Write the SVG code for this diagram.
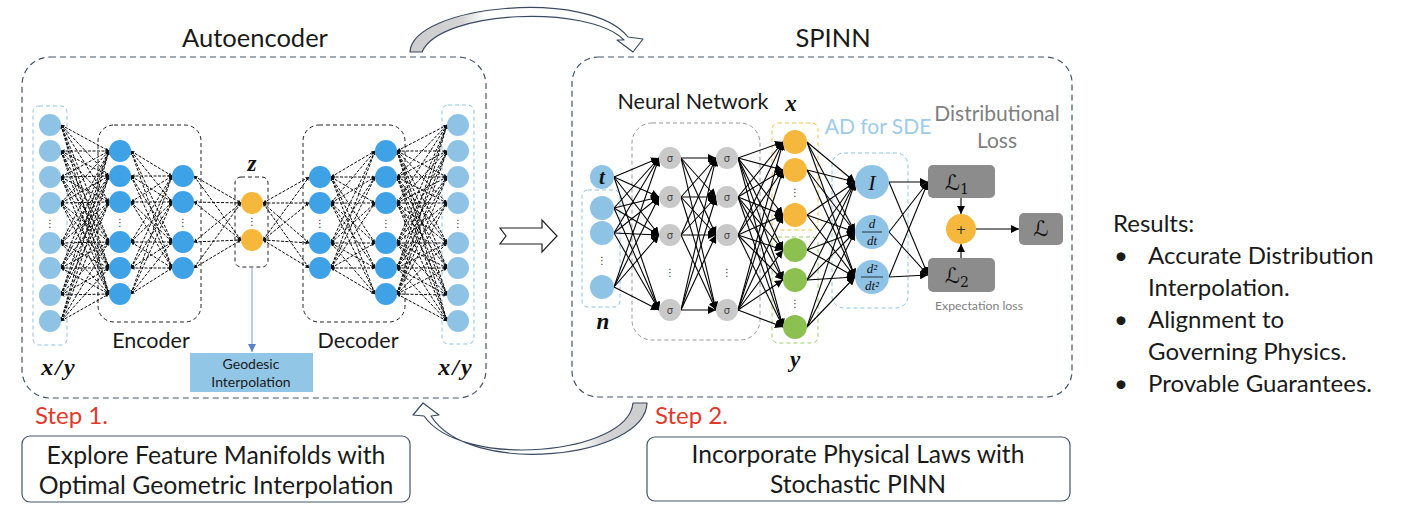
<svg xmlns="http://www.w3.org/2000/svg" width="1412" height="518" viewBox="0 0 1412 518">
<style>
.t{font-family:Lato,"Open Sans",sans-serif;fill:#1a1a1a}
.m{font-family:"Liberation Serif","DejaVu Serif",serif;font-style:italic;font-weight:bold;fill:#111}
.mi{font-family:"Liberation Serif","DejaVu Serif",serif;font-style:italic;fill:#111}
.sc{font-family:"DejaVu Serif","DejaVu Sans",serif;fill:#111}
.frame{fill:none;stroke:#44546a;stroke-width:1.2;stroke-dasharray:6 4}
.grp{fill:none;stroke:#222;stroke-width:1;stroke-dasharray:4 3}
.lb{fill:none;stroke:#8cc3e6;stroke-width:1;stroke-dasharray:4 3}
.ae{fill:#3fa1e6}
.in{fill:#8fc3e6}
.or{fill:#f5b83d}
.gr{fill:#8cc152}
.sg{fill:#c9c9c9}
.lbox{fill:#8c8c8c}
.dots{font-family:"DejaVu Sans",sans-serif;font-size:10px;fill:#333;text-anchor:middle}
.sig{font-family:"DejaVu Sans",sans-serif;font-size:10px;fill:#444;text-anchor:middle}
.dash line{stroke:#0a0a0a;stroke-width:1;stroke-dasharray:3 1.5;marker-start:url(#tip);marker-end:url(#tip)}
.solid line{stroke:#000;stroke-width:1.1;marker-end:url(#ah)}
</style>
<defs>
<marker id="tip" viewBox="0 0 10 10" refX="10" refY="5" markerWidth="3.5" markerHeight="3.5" markerUnits="userSpaceOnUse" orient="auto-start-reverse"><path d="M0,0 L10,5 L0,10 z" fill="#111"/></marker>
<marker id="ah" viewBox="0 0 10 10" refX="10" refY="5" markerWidth="8" markerHeight="8" markerUnits="userSpaceOnUse" orient="auto"><path d="M0,0 L10,5 L0,10 z" fill="#000"/></marker>
<marker id="bl" viewBox="0 0 10 10" refX="10" refY="5" markerWidth="8" markerHeight="8" markerUnits="userSpaceOnUse" orient="auto"><path d="M0,0 L10,5 L0,10 z" fill="#5b7fc7"/></marker>
<linearGradient id="ga" gradientUnits="userSpaceOnUse" x1="410" y1="0" x2="645" y2="0"><stop offset="0" stop-color="#cdcdcd"/><stop offset="0.22" stop-color="#d4d4d4"/><stop offset="0.32" stop-color="#fff"/></linearGradient>
<linearGradient id="gb" gradientUnits="userSpaceOnUse" x1="647" y1="0" x2="413" y2="0"><stop offset="0" stop-color="#cdcdcd"/><stop offset="0.18" stop-color="#d4d4d4"/><stop offset="0.3" stop-color="#fff"/></linearGradient>
</defs>
<rect width="1412" height="518" fill="#fff"/>

<!-- frames and titles -->
<g id="autoencoder-frame">
<rect class="frame" x="22" y="57" width="464" height="341" rx="28"/>
<text class="t" x="255" y="47" font-size="25.5" text-anchor="middle">Autoencoder</text>
</g>
<g id="spinn-frame">
<rect class="frame" x="572" y="57" width="500" height="340" rx="26"/>
<text class="t" x="833" y="47" font-size="25.5" text-anchor="middle">SPINN</text>
</g>

<!-- big arrows -->
<g id="arrow-top">
<path d="M410,52 C412,5 590,-12 628,37 L643,39 L633,52 L617,40 L624,40 C588,4 440,10 422,52 Z" fill="url(#ga)" stroke="#3b4a63" stroke-width="1.2" stroke-linejoin="round"/>
</g>
<g id="arrow-bottom">
<path d="M647,403 C645,458 470,478 431,416 L439,415 L423,403 L413,415 L424,416 C462,470 628,455 633,403 Z" fill="url(#gb)" stroke="#3b4a63" stroke-width="1.2" stroke-linejoin="round"/>
</g>
<g id="arrow-mid">
<path d="M500,228 L542,228 L542,220 L557,236 L542,252 L542,244 L500,244 L506,236 Z" fill="#fff" stroke="#222" stroke-width="1.2"/>
</g>

<!-- group boxes -->
<g id="boxes">
<rect class="lb" x="33" y="106" width="34" height="239" rx="6"/>
<rect class="lb" x="442" y="105" width="32" height="239" rx="6"/>
<rect class="grp" x="98" y="125" width="103" height="197" rx="16"/>
<rect class="grp" x="303" y="125" width="102" height="197" rx="16"/>
<rect class="grp" x="235" y="177" width="33" height="90" rx="6"/>
<rect x="582" y="190" width="38" height="117" rx="6" fill="none" stroke="#8cc3e6" stroke-width="1" stroke-dasharray="4 3"/>
<rect x="632" y="123" width="128" height="217" rx="20" fill="none" stroke="#999" stroke-width="1" stroke-dasharray="4 3"/>
<rect x="772" y="123" width="46" height="107" rx="6" fill="none" stroke="#f2c04e" stroke-width="1" stroke-dasharray="4 3"/>
<rect x="772" y="237" width="46" height="106" rx="6" fill="none" stroke="#9ccf6a" stroke-width="1" stroke-dasharray="4 3"/>
<rect x="832" y="153" width="76" height="155" rx="12" fill="none" stroke="#8cc3e6" stroke-width="1" stroke-dasharray="4 3"/>
</g>

<!-- connectors -->
<g id="connectors">
<g class="dash">
<!-- input -> E1 -->
<line x1="61" y1="125" x2="109" y2="151"/><line x1="61" y1="125" x2="109" y2="176"/><line x1="61" y1="125" x2="109" y2="202"/><line x1="61" y1="125" x2="109" y2="242"/><line x1="61" y1="125" x2="109" y2="268"/><line x1="61" y1="125" x2="109" y2="294"/>
<line x1="61" y1="151" x2="109" y2="151"/><line x1="61" y1="151" x2="109" y2="176"/><line x1="61" y1="151" x2="109" y2="202"/><line x1="61" y1="151" x2="109" y2="242"/><line x1="61" y1="151" x2="109" y2="268"/><line x1="61" y1="151" x2="109" y2="294"/>
<line x1="61" y1="177" x2="109" y2="151"/><line x1="61" y1="177" x2="109" y2="176"/><line x1="61" y1="177" x2="109" y2="202"/><line x1="61" y1="177" x2="109" y2="242"/><line x1="61" y1="177" x2="109" y2="268"/><line x1="61" y1="177" x2="109" y2="294"/>
<line x1="61" y1="203" x2="109" y2="151"/><line x1="61" y1="203" x2="109" y2="176"/><line x1="61" y1="203" x2="109" y2="202"/><line x1="61" y1="203" x2="109" y2="242"/><line x1="61" y1="203" x2="109" y2="268"/><line x1="61" y1="203" x2="109" y2="294"/>
<line x1="61" y1="243" x2="109" y2="151"/><line x1="61" y1="243" x2="109" y2="176"/><line x1="61" y1="243" x2="109" y2="202"/><line x1="61" y1="243" x2="109" y2="242"/><line x1="61" y1="243" x2="109" y2="268"/><line x1="61" y1="243" x2="109" y2="294"/>
<line x1="61" y1="268" x2="109" y2="151"/><line x1="61" y1="268" x2="109" y2="176"/><line x1="61" y1="268" x2="109" y2="202"/><line x1="61" y1="268" x2="109" y2="242"/><line x1="61" y1="268" x2="109" y2="268"/><line x1="61" y1="268" x2="109" y2="294"/>
<line x1="61" y1="295" x2="109" y2="151"/><line x1="61" y1="295" x2="109" y2="176"/><line x1="61" y1="295" x2="109" y2="202"/><line x1="61" y1="295" x2="109" y2="242"/><line x1="61" y1="295" x2="109" y2="268"/><line x1="61" y1="295" x2="109" y2="294"/>
<line x1="61" y1="321" x2="109" y2="151"/><line x1="61" y1="321" x2="109" y2="176"/><line x1="61" y1="321" x2="109" y2="202"/><line x1="61" y1="321" x2="109" y2="242"/><line x1="61" y1="321" x2="109" y2="268"/><line x1="61" y1="321" x2="109" y2="294"/>
<!-- E1 -> E2 -->
<line x1="131" y1="151" x2="172" y2="176"/><line x1="131" y1="151" x2="172" y2="202"/><line x1="131" y1="151" x2="172" y2="242"/><line x1="131" y1="151" x2="172" y2="268"/>
<line x1="131" y1="176" x2="172" y2="176"/><line x1="131" y1="176" x2="172" y2="202"/><line x1="131" y1="176" x2="172" y2="242"/><line x1="131" y1="176" x2="172" y2="268"/>
<line x1="131" y1="202" x2="172" y2="176"/><line x1="131" y1="202" x2="172" y2="202"/><line x1="131" y1="202" x2="172" y2="242"/><line x1="131" y1="202" x2="172" y2="268"/>
<line x1="131" y1="242" x2="172" y2="176"/><line x1="131" y1="242" x2="172" y2="202"/><line x1="131" y1="242" x2="172" y2="242"/><line x1="131" y1="242" x2="172" y2="268"/>
<line x1="131" y1="268" x2="172" y2="176"/><line x1="131" y1="268" x2="172" y2="202"/><line x1="131" y1="268" x2="172" y2="242"/><line x1="131" y1="268" x2="172" y2="268"/>
<line x1="131" y1="294" x2="172" y2="176"/><line x1="131" y1="294" x2="172" y2="202"/><line x1="131" y1="294" x2="172" y2="242"/><line x1="131" y1="294" x2="172" y2="268"/>
<!-- E2 -> Z -->
<line x1="194" y1="176" x2="241" y2="203"/><line x1="194" y1="176" x2="241" y2="240"/>
<line x1="194" y1="202" x2="241" y2="203"/><line x1="194" y1="202" x2="241" y2="240"/>
<line x1="194" y1="242" x2="241" y2="203"/><line x1="194" y1="242" x2="241" y2="240"/>
<line x1="194" y1="268" x2="241" y2="203"/><line x1="194" y1="268" x2="241" y2="240"/>
<!-- Z -> D1 -->
<line x1="263" y1="203" x2="309" y2="177"/><line x1="263" y1="203" x2="309" y2="203"/><line x1="263" y1="203" x2="309" y2="243"/><line x1="263" y1="203" x2="309" y2="268"/>
<line x1="263" y1="240" x2="309" y2="177"/><line x1="263" y1="240" x2="309" y2="203"/><line x1="263" y1="240" x2="309" y2="243"/><line x1="263" y1="240" x2="309" y2="268"/>
<!-- D1 -> D2 -->
<line x1="331" y1="177" x2="375" y2="151"/><line x1="331" y1="177" x2="375" y2="177"/><line x1="331" y1="177" x2="375" y2="203"/><line x1="331" y1="177" x2="375" y2="243"/><line x1="331" y1="177" x2="375" y2="268"/><line x1="331" y1="177" x2="375" y2="294"/>
<line x1="331" y1="203" x2="375" y2="151"/><line x1="331" y1="203" x2="375" y2="177"/><line x1="331" y1="203" x2="375" y2="203"/><line x1="331" y1="203" x2="375" y2="243"/><line x1="331" y1="203" x2="375" y2="268"/><line x1="331" y1="203" x2="375" y2="294"/>
<line x1="331" y1="243" x2="375" y2="151"/><line x1="331" y1="243" x2="375" y2="177"/><line x1="331" y1="243" x2="375" y2="203"/><line x1="331" y1="243" x2="375" y2="243"/><line x1="331" y1="243" x2="375" y2="268"/><line x1="331" y1="243" x2="375" y2="294"/>
<line x1="331" y1="268" x2="375" y2="151"/><line x1="331" y1="268" x2="375" y2="177"/><line x1="331" y1="268" x2="375" y2="203"/><line x1="331" y1="268" x2="375" y2="243"/><line x1="331" y1="268" x2="375" y2="268"/><line x1="331" y1="268" x2="375" y2="294"/>
<!-- D2 -> output -->
<line x1="397" y1="151" x2="447" y2="125"/><line x1="397" y1="151" x2="447" y2="151"/><line x1="397" y1="151" x2="447" y2="177"/><line x1="397" y1="151" x2="447" y2="203"/><line x1="397" y1="151" x2="447" y2="243"/><line x1="397" y1="151" x2="447" y2="268"/><line x1="397" y1="151" x2="447" y2="295"/><line x1="397" y1="151" x2="447" y2="321"/>
<line x1="397" y1="177" x2="447" y2="125"/><line x1="397" y1="177" x2="447" y2="151"/><line x1="397" y1="177" x2="447" y2="177"/><line x1="397" y1="177" x2="447" y2="203"/><line x1="397" y1="177" x2="447" y2="243"/><line x1="397" y1="177" x2="447" y2="268"/><line x1="397" y1="177" x2="447" y2="295"/><line x1="397" y1="177" x2="447" y2="321"/>
<line x1="397" y1="203" x2="447" y2="125"/><line x1="397" y1="203" x2="447" y2="151"/><line x1="397" y1="203" x2="447" y2="177"/><line x1="397" y1="203" x2="447" y2="203"/><line x1="397" y1="203" x2="447" y2="243"/><line x1="397" y1="203" x2="447" y2="268"/><line x1="397" y1="203" x2="447" y2="295"/><line x1="397" y1="203" x2="447" y2="321"/>
<line x1="397" y1="243" x2="447" y2="125"/><line x1="397" y1="243" x2="447" y2="151"/><line x1="397" y1="243" x2="447" y2="177"/><line x1="397" y1="243" x2="447" y2="203"/><line x1="397" y1="243" x2="447" y2="243"/><line x1="397" y1="243" x2="447" y2="268"/><line x1="397" y1="243" x2="447" y2="295"/><line x1="397" y1="243" x2="447" y2="321"/>
<line x1="397" y1="268" x2="447" y2="125"/><line x1="397" y1="268" x2="447" y2="151"/><line x1="397" y1="268" x2="447" y2="177"/><line x1="397" y1="268" x2="447" y2="203"/><line x1="397" y1="268" x2="447" y2="243"/><line x1="397" y1="268" x2="447" y2="268"/><line x1="397" y1="268" x2="447" y2="295"/><line x1="397" y1="268" x2="447" y2="321"/>
<line x1="397" y1="294" x2="447" y2="125"/><line x1="397" y1="294" x2="447" y2="151"/><line x1="397" y1="294" x2="447" y2="177"/><line x1="397" y1="294" x2="447" y2="203"/><line x1="397" y1="294" x2="447" y2="243"/><line x1="397" y1="294" x2="447" y2="268"/><line x1="397" y1="294" x2="447" y2="295"/><line x1="397" y1="294" x2="447" y2="321"/>
</g>
<line x1="252" y1="267" x2="252" y2="352" stroke="#8ea9db" stroke-width="1.2" marker-end="url(#bl)"/>
<g class="solid">
<!-- inputs -> H1 -->
<line x1="614" y1="177" x2="659" y2="158"/><line x1="614" y1="177" x2="659" y2="197"/><line x1="614" y1="177" x2="659" y2="235"/><line x1="614" y1="177" x2="659" y2="310"/>
<line x1="614" y1="208" x2="659" y2="158"/><line x1="614" y1="208" x2="659" y2="197"/><line x1="614" y1="208" x2="659" y2="235"/><line x1="614" y1="208" x2="659" y2="310"/>
<line x1="614" y1="233" x2="659" y2="158"/><line x1="614" y1="233" x2="659" y2="197"/><line x1="614" y1="233" x2="659" y2="235"/><line x1="614" y1="233" x2="659" y2="310"/>
<line x1="614" y1="287" x2="659" y2="158"/><line x1="614" y1="287" x2="659" y2="197"/><line x1="614" y1="287" x2="659" y2="235"/><line x1="614" y1="287" x2="659" y2="310"/>
<!-- H1 -> H2 -->
<line x1="681" y1="158" x2="716" y2="158"/><line x1="681" y1="158" x2="716" y2="197"/><line x1="681" y1="158" x2="716" y2="235"/><line x1="681" y1="158" x2="716" y2="310"/>
<line x1="681" y1="197" x2="716" y2="158"/><line x1="681" y1="197" x2="716" y2="197"/><line x1="681" y1="197" x2="716" y2="235"/><line x1="681" y1="197" x2="716" y2="310"/>
<line x1="681" y1="235" x2="716" y2="158"/><line x1="681" y1="235" x2="716" y2="197"/><line x1="681" y1="235" x2="716" y2="235"/><line x1="681" y1="235" x2="716" y2="310"/>
<line x1="681" y1="310" x2="716" y2="158"/><line x1="681" y1="310" x2="716" y2="197"/><line x1="681" y1="310" x2="716" y2="235"/><line x1="681" y1="310" x2="716" y2="310"/>
<!-- H2 -> outputs -->
<line x1="738" y1="158" x2="783" y2="142"/><line x1="738" y1="158" x2="783" y2="170"/><line x1="738" y1="158" x2="783" y2="215"/><line x1="738" y1="158" x2="783" y2="250"/><line x1="738" y1="158" x2="783" y2="280"/><line x1="738" y1="158" x2="783" y2="327"/>
<line x1="738" y1="197" x2="783" y2="142"/><line x1="738" y1="197" x2="783" y2="170"/><line x1="738" y1="197" x2="783" y2="215"/><line x1="738" y1="197" x2="783" y2="250"/><line x1="738" y1="197" x2="783" y2="280"/><line x1="738" y1="197" x2="783" y2="327"/>
<line x1="738" y1="235" x2="783" y2="142"/><line x1="738" y1="235" x2="783" y2="170"/><line x1="738" y1="235" x2="783" y2="215"/><line x1="738" y1="235" x2="783" y2="250"/><line x1="738" y1="235" x2="783" y2="280"/><line x1="738" y1="235" x2="783" y2="327"/>
<line x1="738" y1="310" x2="783" y2="142"/><line x1="738" y1="310" x2="783" y2="170"/><line x1="738" y1="310" x2="783" y2="215"/><line x1="738" y1="310" x2="783" y2="250"/><line x1="738" y1="310" x2="783" y2="280"/><line x1="738" y1="310" x2="783" y2="327"/>
<!-- outputs -> AD -->
<line x1="807" y1="142" x2="855" y2="182"/><line x1="807" y1="142" x2="855" y2="232"/><line x1="807" y1="142" x2="855" y2="277"/>
<line x1="807" y1="170" x2="855" y2="182"/><line x1="807" y1="170" x2="855" y2="232"/><line x1="807" y1="170" x2="855" y2="277"/>
<line x1="807" y1="215" x2="855" y2="182"/><line x1="807" y1="215" x2="855" y2="232"/><line x1="807" y1="215" x2="855" y2="277"/>
<line x1="807" y1="250" x2="855" y2="182"/><line x1="807" y1="250" x2="855" y2="232"/><line x1="807" y1="250" x2="855" y2="277"/>
<line x1="807" y1="280" x2="855" y2="182"/><line x1="807" y1="280" x2="855" y2="232"/><line x1="807" y1="280" x2="855" y2="277"/>
<line x1="807" y1="327" x2="855" y2="182"/><line x1="807" y1="327" x2="855" y2="232"/><line x1="807" y1="327" x2="855" y2="277"/>
<!-- AD -> losses -->
<line x1="889" y1="182" x2="928" y2="182"/><line x1="889" y1="182" x2="928" y2="275"/>
<line x1="889" y1="232" x2="928" y2="182"/><line x1="889" y1="232" x2="928" y2="275"/>
<line x1="889" y1="277" x2="928" y2="182"/><line x1="889" y1="277" x2="928" y2="275"/>
<line x1="961" y1="198" x2="961" y2="214"/>
<line x1="961" y1="258" x2="961" y2="244"/>
<line x1="976" y1="229" x2="1019" y2="229"/>
</g>
</g>

<!-- autoencoder nodes -->
<g id="ae-input">
<g id="in1"><circle class="in" cx="50" cy="125" r="11"/></g>
<g id="in2"><circle class="in" cx="50" cy="151" r="11"/></g>
<g id="in3"><circle class="in" cx="50" cy="177" r="11"/></g>
<g id="in4"><circle class="in" cx="50" cy="203" r="11"/></g>
<g id="in5"><circle class="in" cx="50" cy="243" r="11"/></g>
<g id="in6"><circle class="in" cx="50" cy="268" r="11"/></g>
<g id="in7"><circle class="in" cx="50" cy="295" r="11"/></g>
<g id="in8"><circle class="in" cx="50" cy="321" r="11"/></g>
<text class="dots" x="50" y="227">⋮</text>
</g>
<g id="ae-enc1">
<g id="e1a"><circle class="ae" cx="120" cy="151" r="11"/></g>
<g id="e1b"><circle class="ae" cx="120" cy="176" r="11"/></g>
<g id="e1c"><circle class="ae" cx="120" cy="202" r="11"/></g>
<g id="e1d"><circle class="ae" cx="120" cy="242" r="11"/></g>
<g id="e1e"><circle class="ae" cx="120" cy="268" r="11"/></g>
<g id="e1f"><circle class="ae" cx="120" cy="294" r="11"/></g>
<text class="dots" x="120" y="226">⋮</text>
</g>
<g id="ae-enc2">
<g id="e2a"><circle class="ae" cx="183" cy="176" r="11"/></g>
<g id="e2b"><circle class="ae" cx="183" cy="202" r="11"/></g>
<g id="e2c"><circle class="ae" cx="183" cy="242" r="11"/></g>
<g id="e2d"><circle class="ae" cx="183" cy="268" r="11"/></g>
<text class="dots" x="183" y="226">⋮</text>
</g>
<g id="ae-z">
<g id="z1"><circle class="or" cx="252" cy="203" r="11"/></g>
<g id="z2"><circle class="or" cx="252" cy="240" r="11"/></g>
<text class="dots" x="252" y="225">⋮</text>
<text class="m" x="252" y="171" font-size="23" text-anchor="middle">z</text>
</g>
<g id="ae-dec1">
<g id="d1a"><circle class="ae" cx="320" cy="177" r="11"/></g>
<g id="d1b"><circle class="ae" cx="320" cy="203" r="11"/></g>
<g id="d1c"><circle class="ae" cx="320" cy="243" r="11"/></g>
<g id="d1d"><circle class="ae" cx="320" cy="268" r="11"/></g>
<text class="dots" x="320" y="227">⋮</text>
</g>
<g id="ae-dec2">
<g id="d2a"><circle class="ae" cx="386" cy="151" r="11"/></g>
<g id="d2b"><circle class="ae" cx="386" cy="177" r="11"/></g>
<g id="d2c"><circle class="ae" cx="386" cy="203" r="11"/></g>
<g id="d2d"><circle class="ae" cx="386" cy="243" r="11"/></g>
<g id="d2e"><circle class="ae" cx="386" cy="268" r="11"/></g>
<g id="d2f"><circle class="ae" cx="386" cy="294" r="11"/></g>
<text class="dots" x="386" y="227">⋮</text>
</g>
<g id="ae-output">
<g id="out1"><circle class="in" cx="458" cy="125" r="11"/></g>
<g id="out2"><circle class="in" cx="458" cy="151" r="11"/></g>
<g id="out3"><circle class="in" cx="458" cy="177" r="11"/></g>
<g id="out4"><circle class="in" cx="458" cy="203" r="11"/></g>
<g id="out5"><circle class="in" cx="458" cy="243" r="11"/></g>
<g id="out6"><circle class="in" cx="458" cy="268" r="11"/></g>
<g id="out7"><circle class="in" cx="458" cy="295" r="11"/></g>
<g id="out8"><circle class="in" cx="458" cy="321" r="11"/></g>
<text class="dots" x="458" y="227">⋮</text>
</g>
<g id="ae-labels">
<text class="t" x="151" y="348" font-size="21.5" text-anchor="middle">Encoder</text>
<text class="t" x="358" y="348" font-size="21.5" text-anchor="middle">Decoder</text>
<text class="m" x="59" y="375" font-size="24" letter-spacing="2" text-anchor="middle">x/y</text>
<text class="m" x="456" y="375" font-size="24" letter-spacing="2" text-anchor="middle">x/y</text>
</g>
<g id="geodesic">
<rect x="190" y="353" width="123" height="39" fill="#92c6e6"/>
<text class="t" x="251" y="369" font-size="14" text-anchor="middle">Geodesic</text>
<text class="t" x="251" y="387" font-size="14" text-anchor="middle">Interpolation</text>
</g>

<!-- SPINN nodes -->
<g id="spinn-input">
<g id="t-node"><circle class="in" cx="602" cy="177" r="12"/><text class="mi" x="602" y="184" font-size="21" font-weight="bold" text-anchor="middle">t</text></g>
<g id="n1"><circle class="in" cx="602" cy="208" r="12"/></g>
<g id="n2"><circle class="in" cx="602" cy="233" r="12"/></g>
<g id="n3"><circle class="in" cx="602" cy="287" r="12"/></g>
<text class="dots" x="602" y="264">⋮</text>
<text class="m" x="603" y="329" font-size="23" text-anchor="middle">n</text>
</g>
<g id="hidden1">
<g id="h1a"><circle class="sg" cx="670" cy="158" r="11"/><text class="sig" x="670" y="162">σ</text></g>
<g id="h1b"><circle class="sg" cx="670" cy="197" r="11"/><text class="sig" x="670" y="201">σ</text></g>
<g id="h1c"><circle class="sg" cx="670" cy="235" r="11"/><text class="sig" x="670" y="239">σ</text></g>
<g id="h1d"><circle class="sg" cx="670" cy="310" r="11"/><text class="sig" x="670" y="314">σ</text></g>
<text class="dots" x="670" y="276">⋮</text>
</g>
<g id="hidden2">
<g id="h2a"><circle class="sg" cx="727" cy="158" r="11"/><text class="sig" x="727" y="162">σ</text></g>
<g id="h2b"><circle class="sg" cx="727" cy="197" r="11"/><text class="sig" x="727" y="201">σ</text></g>
<g id="h2c"><circle class="sg" cx="727" cy="235" r="11"/><text class="sig" x="727" y="239">σ</text></g>
<g id="h2d"><circle class="sg" cx="727" cy="310" r="11"/><text class="sig" x="727" y="314">σ</text></g>
<text class="dots" x="727" y="276">⋮</text>
</g>
<text class="t" x="693" y="109" font-size="21.5" text-anchor="middle">Neural Network</text>
<g id="out-x">
<g id="x1"><circle class="or" cx="795" cy="142" r="12"/></g>
<g id="x2"><circle class="or" cx="795" cy="170" r="12"/></g>
<g id="x3"><circle class="or" cx="795" cy="215" r="12"/></g>
<text class="dots" x="795" y="196">⋮</text>
<text class="m" x="791" y="111" font-size="23" text-anchor="middle">x</text>
</g>
<g id="out-y">
<g id="y1"><circle class="gr" cx="795" cy="250" r="12"/></g>
<g id="y2"><circle class="gr" cx="795" cy="280" r="12"/></g>
<g id="y3"><circle class="gr" cx="795" cy="327" r="12"/></g>
<text class="dots" x="795" y="307">⋮</text>
<text class="m" x="795" y="367" font-size="23" text-anchor="middle">y</text>
</g>
<g id="ad">
<text x="878" y="134" font-family="Lato,'Open Sans',sans-serif" font-size="21" fill="#9dcbea" text-anchor="middle">AD for SDE</text>
<g id="ad-I"><circle class="in" cx="872" cy="182" r="17"/><text class="mi" x="872" y="190" font-size="22" text-anchor="middle">I</text></g>
<g id="ad-d"><circle class="in" cx="872" cy="232" r="17"/><text class="mi" x="872" y="228" font-size="13" text-anchor="middle">d</text><line x1="862" y1="232" x2="882" y2="232" stroke="#111" stroke-width="0.8"/><text class="mi" x="872" y="245" font-size="13" text-anchor="middle">dt</text></g>
<g id="ad-d2"><circle class="in" cx="872" cy="277" r="17"/><text class="mi" x="872" y="273" font-size="13" text-anchor="middle">d²</text><line x1="861" y1="277" x2="883" y2="277" stroke="#111" stroke-width="0.8"/><text class="mi" x="872" y="290" font-size="13" text-anchor="middle">dt²</text></g>
</g>
<g id="loss">
<text x="997" y="121" font-family="Lato,'Open Sans',sans-serif" font-size="21" fill="#7f7f7f" text-anchor="middle">Distributional</text>
<text x="997" y="148" font-family="Lato,'Open Sans',sans-serif" font-size="21" fill="#7f7f7f" text-anchor="middle">Loss</text>
<g id="L1"><rect class="lbox" x="928" y="165" width="67" height="33" rx="5"/><text class="sc" x="957" y="190" font-size="21" text-anchor="middle">ℒ<tspan font-size="14" dy="4">1</tspan></text></g>
<g id="L2"><rect class="lbox" x="928" y="258" width="67" height="34" rx="5"/><text class="sc" x="957" y="283" font-size="21" text-anchor="middle">ℒ<tspan font-size="14" dy="4">2</tspan></text></g>
<g id="plus"><circle class="or" cx="961" cy="229" r="15"/><text x="961" y="234" font-family="DejaVu Sans,sans-serif" font-size="13" fill="#333" text-anchor="middle">+</text></g>
<g id="L"><rect class="lbox" x="1019" y="213" width="44" height="32" rx="5"/><text class="sc" x="1041" y="236" font-size="21" text-anchor="middle">ℒ</text></g>
<text x="979" y="310" font-family="Lato,'Open Sans',sans-serif" font-size="12.3" fill="#7f7f7f" text-anchor="middle">Expectation loss</text>
</g>

<!-- steps -->
<g id="step1">
<text x="35" y="424" font-family="Lato,'Open Sans',sans-serif" font-size="24" fill="#e0392b">Step 1.</text>
<rect x="22" y="436" width="388" height="66" rx="8" fill="#fff" stroke="#44546a" stroke-width="1.2"/>
<text class="t" x="216" y="464" font-size="24.8" text-anchor="middle">Explore Feature Manifolds with</text>
<text class="t" x="216" y="494" font-size="24.8" text-anchor="middle">Optimal Geometric Interpolation</text>
</g>
<g id="step2">
<text x="655" y="424" font-family="Lato,'Open Sans',sans-serif" font-size="24" fill="#e0392b">Step 2.</text>
<rect x="647" y="437" width="423" height="64" rx="8" fill="#fff" stroke="#44546a" stroke-width="1.2"/>
<text class="t" x="858" y="463" font-size="24.6" text-anchor="middle">Incorporate Physical Laws with</text>
<text class="t" x="858" y="493" font-size="24.6" text-anchor="middle">Stochastic PINN</text>
</g>
<g id="results">
<text class="t" x="1113" y="232" font-size="24">Results:</text>
<text class="t" x="1114" y="264" font-size="24">•</text>
<text class="t" x="1148" y="264" font-size="24">Accurate Distribution</text>
<text class="t" x="1148" y="296" font-size="24">Interpolation.</text>
<text class="t" x="1114" y="328" font-size="24">•</text>
<text class="t" x="1148" y="328" font-size="24">Alignment to</text>
<text class="t" x="1148" y="360" font-size="24">Governing Physics.</text>
<text class="t" x="1114" y="392" font-size="24">•</text>
<text class="t" x="1148" y="392" font-size="24">Provable Guarantees.</text>
</g>
</svg>
